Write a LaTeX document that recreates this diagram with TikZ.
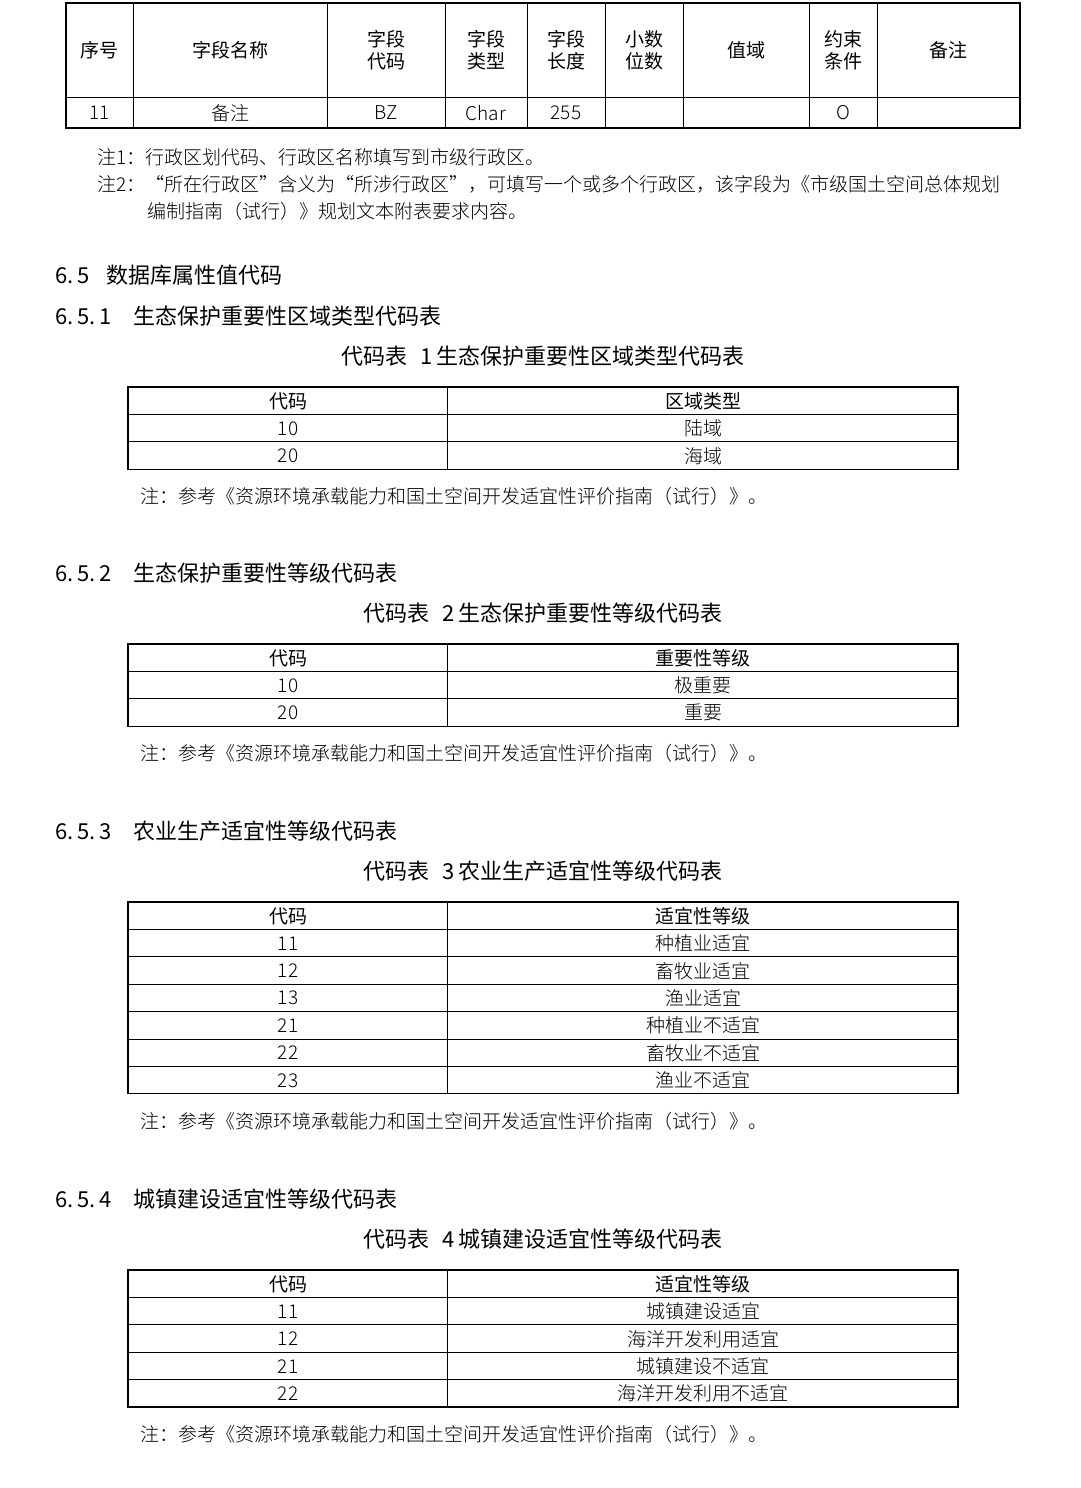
\documentclass[tikz,border=0pt]{standalone}
\usepackage{fontspec}
\setmainfont{Liberation Serif}
\newfontfamily\cjk{Noto Sans CJK SC}[Scale=1]
\newfontfamily\cjkl{Noto Sans CJK SC Light}
\newfontfamily\hd{Noto Sans CJK SC}
\begin{document}
\begin{tikzpicture}[x=1pt,y=-1pt,
  txt/.style={inner sep=0pt,font=\cjkl\fontsize{19}{20}\selectfont},
  htx/.style={inner sep=0pt,font=\cjk\fontsize{19}{20}\selectfont},
  hdr/.style={inner sep=0pt,font=\cjk\fontsize{19}{22}\selectfont,align=center},
  sec/.style={inner sep=0pt,anchor=west,font=\hd\fontsize{22}{24}\selectfont},
  captxt/.style={inner sep=0pt,font=\hd\fontsize{22}{24}\selectfont},
  outer/.style={line width=1.3pt},
  inner/.style={line width=0.8pt}]
\useasboundingbox (0,0) rectangle (1080,1488);
% top table
\draw[outer] (66,3) rectangle (1020,128);
\draw[inner] (66,97) -- (1020,97);
\foreach \x in {133,327,445,527,605,683,809,877} \draw[inner] (\x,3) -- (\x,128);
\foreach \c/\t in {99.5/序号,230/字段名称,386/字段\\代码,486/字段\\类型,566/字段\\长度,644/小数\\位数,746/值域,843/约束\\条件,948.5/备注}
  \node[hdr] at (\c,50) {\t};
\foreach \c/\t in {99.5/11,230/备注,386/BZ,486/Char,566/255,843/O}
  \node[txt] at (\c,113) {\t};
\node[txt,anchor=west] (n1) at (97,157) {注1：行政区划代码、行政区名称填写到市级行政区。};
\node[txt,anchor=west] (n2) at (97,184) {注2：“所在行政区”含义为“所涉行政区”，可填写一个或多个行政区，该字段为《市级国土空间总体规划};
\node[txt,anchor=west] (n3) at (147,211) {编制指南（试行）》规划文本附表要求内容。};
% sections
\node[sec] (s65) at (55,275) {6.\,5\hspace{0.8em}数据库属性值代码};
\newcommand\codetab[5]{%
  \node[sec] at (55,#1) {6.\,5.\,#2\hspace{1em}#3};
  \node[captxt] at (543,#1+40) {代码表\hspace{0.6em}#2\hspace{0.2em}#3};
  \pgfmathsetmacro\top{#1+71}
  \node[htx] at (288,\top+14) {代码};
  \node[htx] at (703,\top+14) {#4};
  \foreach \a/\b [count=\i] in {#5} {
    \pgfmathsetmacro\yy{\top+27.4*\i}
    \draw[inner] (128,\yy) -- (958,\yy);
    \node[txt] at (288,\yy+14) {\a};
    \node[txt] at (703,\yy+14) {\b};
    \xdef\lastbot{\yy}
  }
  \pgfmathsetmacro\bot{\lastbot+27.4}
  \draw[outer] (128,\top) rectangle (958,\bot);
  \draw[inner] (447,\top) -- (447,\bot);
  \node[txt,anchor=west] at (140,\bot+27) {注：参考《资源环境承载能力和国土空间开发适宜性评价指南（试行）》。};
}
\codetab{316}{1}{生态保护重要性区域类型代码表}{区域类型}{10/陆域,20/海域}
\codetab{573}{2}{生态保护重要性等级代码表}{重要性等级}{10/极重要,20/重要}
\codetab{831}{3}{农业生产适宜性等级代码表}{适宜性等级}{11/种植业适宜,12/畜牧业适宜,13/渔业适宜,21/种植业不适宜,22/畜牧业不适宜,23/渔业不适宜}
\codetab{1199}{4}{城镇建设适宜性等级代码表}{适宜性等级}{11/城镇建设适宜,12/海洋开发利用适宜,21/城镇建设不适宜,22/海洋开发利用不适宜}
\end{tikzpicture}
\end{document}
